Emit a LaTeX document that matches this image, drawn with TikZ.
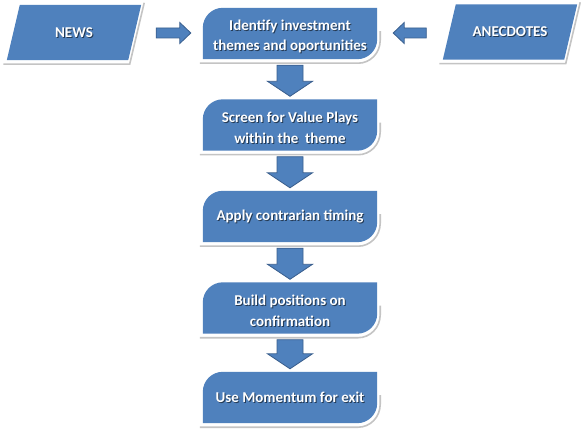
\documentclass[tikz,border=0pt]{standalone}
\usepackage{fontspec}
\setmainfont{Carlito}
\usetikzlibrary{calc}
\pgfdeclarelayer{bg}
\pgfsetlayers{bg,main}
\definecolor{boxblue}{HTML}{4F81BD}
\definecolor{boxedge}{HTML}{3A5F8E}
\definecolor{glow}{HTML}{C4C4C4}
\newcommand\lowerline{\rule{0pt}{16.5pt}}
\tikzset{
  stepbox/.style={minimum width=174pt, minimum height=51pt, inner sep=0pt, align=center,
    text=white, font=\bfseries\fontsize{15}{20.5}\selectfont},
  stepshade/.style={stepbox, text=black, text opacity=0.55},
  datatext/.style={minimum height=55pt, inner sep=0pt, text=white,
    font=\bfseries\fontsize{15}{20.5}\selectfont},
  datashade/.style={datatext, text=black, text opacity=0.55},
  blockarrow/.style={fill=boxblue, draw=boxedge, line width=0.8pt, line join=miter},
  glowline/.style={draw=glow, line width=1.6pt},
}
\newcommand\flowstep[4]{% name, x, y, text
  \node[stepshade] (#1sh) at (#2+1,#3+1) {#4};
  \node[stepbox] (#1) at (#2,#3) {#4};
  \begin{pgfonlayer}{bg}
    \fill[boxblue] (#1.south west) -- ($(#1.north west)+(0,20)$)
      .. controls ($(#1.north west)+(0,9)$) and ($(#1.north west)+(9,0)$) .. ($(#1.north west)+(20,0)$)
      -- (#1.north east) -- ($(#1.south east)+(0,-20)$)
      .. controls ($(#1.south east)+(0,-9)$) and ($(#1.south east)+(-9,0)$) .. ($(#1.south east)+(-20,0)$)
      -- cycle;
    \draw[glowline] ($(#1.south west)+(-3,4)$) -- ($(#1.south east)+(-19,4)$)
      .. controls ($(#1.south east)+(-7,4)$) and ($(#1.south east)+(3,-6)$) .. ($(#1.south east)+(3,-19)$)
      -- ($(#1.south east)+(3,-28)$);
  \end{pgfonlayer}}
\newcommand\flowdown[2]{%
  \draw[blockarrow] let \p1=($(#1.south)+(0,6)$), \p2=($(#2.north)+(0,-3)$) in
    (\x1-13pt,\y1) -- (\x1+13pt,\y1) -- (\x1+13pt,\y2+15pt) -- (\x1+22.5pt,\y2+15pt)
    -- (\x1,\y2) -- (\x1-22.5pt,\y2+15pt) -- (\x1-13pt,\y2+15pt) -- cycle;}
\newcommand\dataslant[4]{% name, x, y, text
  \node[datashade, minimum width=121pt] (#1sh) at (#2+1,#3+1) {#4};
  \node[datatext, minimum width=121pt] (#1) at (#2,#3) {#4};
  \begin{pgfonlayer}{bg}
    \fill[boxblue] ($(#1.north west)+(6.5,0)$) -- ($(#1.north east)+(6.5,0)$)
      -- ($(#1.south east)+(-6.5,0)$) -- ($(#1.south west)+(-6.5,0)$) -- cycle;
    \draw[glowline] ($(#1.south west)+(-10,4)$) -- ($(#1.south east)+(-5,4)$)
      -- ($(#1.north east)+(9.5,-2)$);
  \end{pgfonlayer}}
\begin{document}
\begin{tikzpicture}[x=1pt,y=-1pt]
  \begin{pgfonlayer}{bg}
    \fill[white] (0,0) rectangle (583,430);
  \end{pgfonlayer}
  \useasboundingbox (0,0) rectangle (583,430);

  \dataslant{news}{74}{32.5}{NEWS}
  \dataslant{anec}{510}{32}{ANECDOTES}

  \flowstep{s1}{290}{33.5}{\lowerline Identify investment\\themes and oportunities}
  \flowstep{s2}{290}{125}{\lowerline Screen for Value Plays\\within the~ theme}
  \flowstep{s3}{290}{216.5}{Apply contrarian timing}
  \flowstep{s4}{290}{308}{\lowerline Build positions on\\confirmation}
  \flowstep{s5}{290}{397.5}{Use Momentum for exit}

  \draw[blockarrow] let \p1=($(news.east)+(21.5,0.5)$), \p2=($(s1.west)+(-12,0)$) in
    (\x1,\y1+5pt) -- (\x2-11pt,\y1+5pt) -- (\x2-11pt,\y1+10.5pt) -- (\x2,\y1)
    -- (\x2-11pt,\y1-10.5pt) -- (\x2-11pt,\y1-5pt) -- (\x1,\y1-5pt) -- cycle;
  \draw[blockarrow] let \p1=($(anec.west)+(-23,1)$), \p2=($(s1.east)+(16,0)$) in
    (\x1,\y1+5pt) -- (\x2+11pt,\y1+5pt) -- (\x2+11pt,\y1+10.5pt) -- (\x2,\y1)
    -- (\x2+11pt,\y1-10.5pt) -- (\x2+11pt,\y1-5pt) -- (\x1,\y1-5pt) -- cycle;

  \flowdown{s1}{s2}
  \flowdown{s2}{s3}
  \flowdown{s3}{s4}
  \flowdown{s4}{s5}
\end{tikzpicture}
\end{document}
